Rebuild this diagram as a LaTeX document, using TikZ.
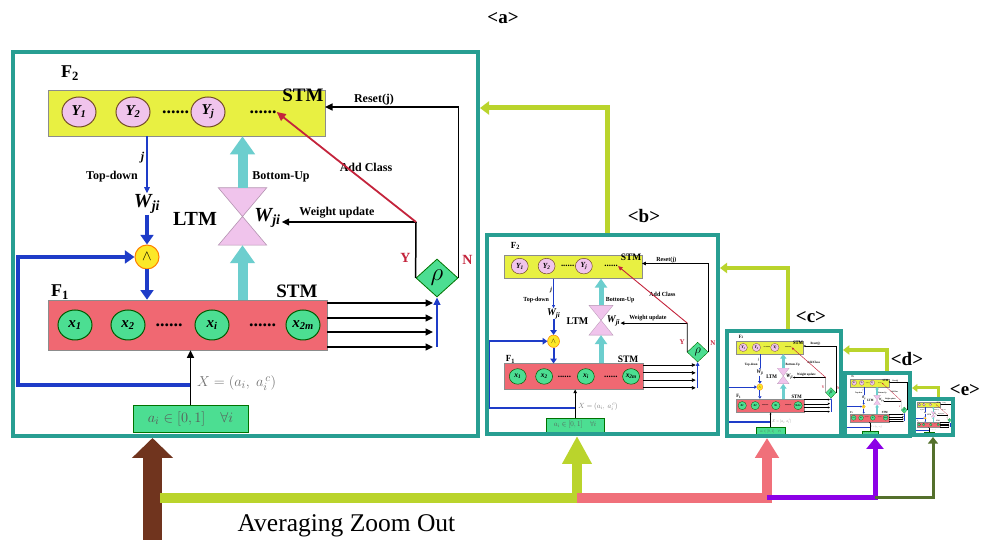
\documentclass[tikz,border=0pt]{standalone}
\usepackage{xcolor}
\usepackage{fontspec}
\setmainfont{Liberation Serif}
\usepackage{tikz}
\usetikzlibrary{arrows.meta, shapes.geometric}

\definecolor{frameteal}{RGB}{40,158,146}
\definecolor{limeline}{RGB}{186,212,44}
\definecolor{stmyellow}{RGB}{232,240,66}
\definecolor{stmred}{RGB}{240,104,114}
\definecolor{cellpink}{RGB}{240,196,236}
\definecolor{cellgreen}{RGB}{76,222,146}
\definecolor{ltmteal}{RGB}{108,206,206}
\definecolor{linkblue}{RGB}{30,60,200}
\definecolor{addred}{RGB}{196,36,60}
\definecolor{andyellow}{RGB}{252,232,40}
\definecolor{arrowbrown}{RGB}{112,52,30}
\definecolor{arrowpink}{RGB}{240,112,122}
\definecolor{arrowpurple}{RGB}{140,0,230}
\definecolor{arrowgreen}{RGB}{84,112,44}

\def\artw{1}
\tikzset{
  frame/.style={draw=frameteal, line width=4pt, inner sep=0pt},
  panel/.style={font=\fontsize{19}{19}\selectfont\bfseries},
  layer/.style={draw=black!45, line width=\artw*0.6pt, inner sep=0pt},
  layername/.style={font=\fontsize{18}{18}\selectfont\bfseries},
  stmtag/.style={font=\fontsize{19}{19}\selectfont\bfseries, inner sep=0pt},
  ycell/.style={ellipse, draw=brown!60!black, fill=cellpink, line width=\artw*1pt,
    minimum width=34pt, minimum height=30pt, inner sep=0pt, font=\fontsize{15}{15}\selectfont\bfseries\itshape},
  xcell/.style={ellipse, draw=green!35!black, fill=cellgreen, line width=\artw*1pt,
    minimum width=34pt, minimum height=30pt, inner sep=0pt, font=\fontsize{15}{15}\selectfont\bfseries\itshape},
  dots/.style={font=\fontsize{18}{18}\selectfont\bfseries, inner sep=0pt},
  tag/.style={font=\fontsize{12}{12}\selectfont\bfseries, inner sep=1pt},
  wlabel/.style={font=\fontsize{20}{20}\selectfont\bfseries\itshape, inner sep=1pt},
  sig/.style={line width=\artw*1.5pt, -{Triangle[length=0pt 5, width=0pt 4.6]}},
  bluesig/.style={draw=linkblue, line width=\artw*4pt, -{Triangle[length=0pt 2.4, width=0pt 3.2]}},
  ltmflow/.style={draw=ltmteal, line width=\artw*10pt, -{Triangle[length=0pt 1.8, width=0pt 2.4]}},
  andgate/.style={circle, draw=orange, fill=andyellow, line width=\artw*1pt, minimum size=24pt,
    inner sep=0pt, font=\fontsize{14}{14}\selectfont},
  vig/.style={diamond, draw=green!45!black, fill=cellgreen, line width=\artw*0.8pt,
    minimum width=42pt, minimum height=38pt, inner sep=0pt, font=\fontsize{28}{28}\selectfont},
  yn/.style={text=addred, font=\fontsize{14}{14}\selectfont\bfseries, inner sep=0pt},
  inbox/.style={draw=green!45!black, fill=cellgreen, line width=\artw*0.8pt, minimum width=115pt,
    minimum height=27pt, inner sep=0pt, text=black!65, font=\fontsize{15}{15}\selectfont},
  xlab/.style={text=black!55, font=\fontsize{15}{15}\selectfont},
  zoomlink/.style={draw=limeline, -{Triangle[length=0pt 1.8, width=0pt 2.6]}},
  pics/artnet/.style={code={
    \def\artw{#1}
    % F2 layer
    \node[layer, fill=stmyellow, minimum width=277pt, minimum height=46pt] (-f2) at (-59,131) {};
    \node[layername] (-f2name) at (-175.5,171) {F\textsubscript{2}};
    \node[stmtag] (-f2stm) at (57.5,149) {STM};
    \node[ycell] (-y1) at (-166.5,132) {Y\textsubscript{1}};
    \node[ycell] (-y2) at (-112.5,132) {Y\textsubscript{2}};
    \node[dots] (-f2dots) at (-70,132) {......};
    \node[ycell] (-yj) at (-37.5,132) {Y\textsubscript{j}};
    \node[dots] (-f2more) at (17.5,132) {......};
    \coordinate (-f2r) at (79.5,137);
    % F1 layer
    \node[layer, fill=stmred, minimum width=279pt, minimum height=50pt] (-f1) at (-58,-81) {};
    \node[layername] (-f1name) at (-185.5,-48) {F\textsubscript{1}};
    \node[stmtag] (-f1stm) at (51.5,-47) {STM};
    \node[xcell] (-x1) at (-170.5,-81) {x\textsubscript{1}};
    \node[xcell] (-x2) at (-117.5,-81) {x\textsubscript{2}};
    \node[dots] (-f1dots) at (-76.5,-81) {......};
    \node[xcell] (-xi) at (-33.5,-81) {x\textsubscript{i}};
    \node[dots] (-f1more) at (17,-81) {......};
    \node[xcell] (-x2m) at (57.5,-81) {x\textsubscript{2m}};
    % top-down
    \node[wlabel] (-wl) at (-98.5,40) {W\textsubscript{ji}};
    \node[tag] (-j) at (-103,86) {\itshape j};
    \node[tag] (-td) at (-133.5,67) {Top-down};
    \node[andgate] (-and) at (-98.5,-13) {$\wedge$};
    \draw[sig, draw=linkblue, line width=#1*1.2pt] (-wl |- -f2.south) -- (-wl.north);
    \draw[bluesig] (-wl.south) -- (-and.north);
    \draw[bluesig] (-and.south) -- (-and |- -f1.north);
    % bottom-up
    \node[minimum width=48pt, minimum height=57pt, inner sep=0pt] (-hg) at (-3,27.5) {};
    \filldraw[fill=cellpink, draw=cellpink!75!black, line width=#1*0.6pt]
      (-hg.north west) -- (-hg.north east) -- (-hg.south west) -- (-hg.south east) -- cycle;
    \node[stmtag, font=\fontsize{20}{20}\selectfont\bfseries] (-ltm) at (-50.5,25) {LTM};
    \node[wlabel] (-wr) at (22,26) {W\textsubscript{ji}};
    \node[tag] (-bu) at (35.5,67) {Bottom-Up};
    \draw[ltmflow] (-hg.north) -- (-hg |- -f2.south);
    \draw[ltmflow] (-hg |- -f1.north) -- (-hg.south);
    % vigilance
    \node[vig] (-rho) at (191.5,-34) {$\rho$};
    \coordinate (-wu) at (170.5,22);
    \node[yn] (-yes) at (160,-14) {Y};
    \node[yn] (-no) at (222,-16) {N};
    \node[tag] (-wup) at (91.5,31) {Weight update};
    \node[tag] (-add) at (120.5,77) {Add Class};
    \node[tag] (-rst) at (128.5,144) {Reset(j)};
    \draw[line width=#1*1.5pt] (-rho.west) -- (-wu);
    \draw[sig] (-wu) -- (-wu -| -wr.east);
    \draw[sig, draw=addred, line width=#1*1.8pt] (-wu) -- (-f2more.east);
    \draw[sig] (-rho.east) |- (-f2r);
    \foreach \v [count=\k] in {-59,-74,-88,-103} {
      \coordinate (-o\k) at (81.5,\v);
      \coordinate (-i\k) at (187.5,\v);
      \draw[sig] (-o\k) -- (-i\k);
    }
    \draw[sig, draw=linkblue] (-i4 -| -rho.south) -- (-rho.south);
    % input
    \node[inbox] (-in) at (-55,-174.5) {$a_i \in [0,1] \quad \forall i$};
    \coordinate (-xj) at (-55,-141);
    \coordinate (-bl) at (-227.5,-141);
    \node[xlab] (-xeq) at (-9,-139) {$X=(a_i,\ a_i^{\,c})$};
    \draw[bluesig] (-xj) -- (-bl) |- (-and.west);
    \draw[sig] (-in.north) -- (-in |- -f1.south);
  }},
}

\begin{document}
\begin{tikzpicture}[x=1pt, y=1pt]
  \fill[white] (0,0) rectangle (986,540);
  \useasboundingbox (0,0) rectangle (986,540);

  \coordinate (ca) at (245.5,296);
  \coordinate (cb) at (602.5,205.5);
  \coordinate (cc) at (784,156.5);
  \coordinate (cd) at (877.5,135.5);
  \coordinate (ce) at (933.5,123);

  \pic (a) at (ca) {artnet=1};
  \pic[xscale=0.497, yscale=0.518, transform shape] (b) at (cb) {artnet=0.5};
  \pic[xscale=0.245, yscale=0.273, transform shape] (c) at (cc) {artnet=0.26};
  \pic[xscale=0.14, yscale=0.164, transform shape] (d) at (cd) {artnet=0.15};
  \pic[xscale=0.084, yscale=0.094, transform shape] (e) at (ce) {artnet=0.09};

  \node[frame, minimum width=465pt, minimum height=384pt] (fa) at (ca) {};
  \node[frame, minimum width=231pt, minimum height=199pt] (fb) at (cb) {};
  \node[frame, minimum width=114pt, minimum height=105pt] (fc) at (cc) {};
  \node[frame, minimum width=65pt, minimum height=63pt] (fd) at (cd) {};
  \node[frame, minimum width=39pt, minimum height=36pt] (fe) at (ce) {};

  \node[panel] (la) at (503,522) {<a>};
  \node[panel] (lb) at (644,324) {<b>};
  \node[panel] (lc) at (811,223) {<c>};
  \node[panel] (ld) at (907,181) {<d>};
  \node[panel] (le) at (965,150) {<e>};

  % each copy feeds the one above it
  \draw[zoomlink, line width=5pt] ([xshift=4.5pt]fb.north) |- ([yshift=136pt]fa.east);
  \draw[zoomlink, line width=4pt] ([xshift=4pt]fc.north) |- ([yshift=66.5pt]fb.east);
  \draw[zoomlink, line width=3.5pt] ([xshift=9.5pt]fd.north) |- ([yshift=33.5pt]fc.east);
  \draw[zoomlink, line width=3pt] ([xshift=4.5pt]fe.north) |- ([yshift=16.5pt]fd.east);

  % averaging zoom out
  \coordinate (src) at (152.5,0);
  \coordinate (jb) at (160,42);
  \coordinate (jc) at (577,42);
  \coordinate (jd) at (767,42);
  \coordinate (je) at (875,42);
  \draw[draw=arrowbrown, line width=19pt, -{Triangle[length=0pt 1.05, width=0pt 2.1]}] (src) -- (src |- fa.south);
  \draw[draw=limeline, line width=10pt, -{Triangle[length=0pt 2.8, width=0pt 2.8]}] (jb) -| ([xshift=-25.5pt]fb.south);
  \draw[draw=arrowpink, line width=10pt, -{Triangle[length=0pt 2, width=0pt 2.3]}] (jc) -| ([xshift=-17pt]fc.south);
  \draw[draw=arrowpurple, line width=5pt, -{Triangle[length=0pt 2.2, width=0pt 3.4]}] (jd) -| ([xshift=-2.5pt]fd.south);
  \draw[draw=arrowgreen, line width=3pt, -{Triangle[length=0pt 2.2, width=0pt 3.3]}] (je) -| ([xshift=-0.5pt]fe.south);
  \node[font=\fontsize{25.5}{25.5}\selectfont, anchor=base] (avg) at (346.5,8) {Averaging Zoom Out};
\end{tikzpicture}
\end{document}
